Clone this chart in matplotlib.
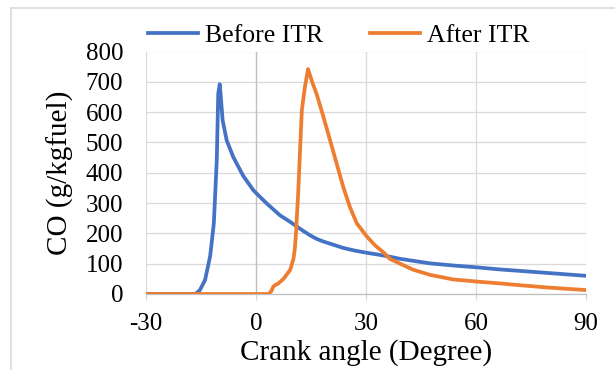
import matplotlib
matplotlib.use("Agg")
import matplotlib.pyplot as plt
from matplotlib.patches import Rectangle

# Before ITR (blue)
before_angle = [-30, -16.5, -15.3, -13.9, -12.5, -11.5, -10.7, -10.3, -9.9, -9.6, -9.1,
                -8.0, -6.2, -3.5, -0.7, 0.2, 2.9, 6.5, 9.3, 11.1, 12.9, 14.7, 16.5,
                18.4, 20.2, 23.8, 27, 30.2, 33.8, 36.5, 39.3, 42, 47.5, 53.8, 60.2,
                66.5, 70, 80, 90]
before_co = [0, 0, 13, 46, 125, 233, 441, 661, 692, 650, 573,
             507, 452, 390, 342, 331, 299, 260, 238, 223, 208, 194, 182,
             173, 166, 152, 143, 136, 129, 123, 116, 111, 101, 94, 88,
             81, 78, 69, 60]

# After ITR (orange)
after_angle = [-30, 3.4, 4.2, 4.7, 5.3, 6.1, 7.5, 9.3, 10.2, 10.6, 10.9, 11.5, 12.0,
               12.5, 13.3, 14.2, 15.3, 16.5, 18.4, 20.2, 22.0, 23.8, 25.6, 27.5,
               30.2, 32.5, 34.7, 36.5, 39.3, 42.9, 47.5, 53.8, 60.2, 66.5, 70, 80, 90]
after_co = [0, 0, 10, 24, 30, 35, 50, 79, 115, 150, 200, 331, 470,
            606, 680, 742, 700, 661, 584, 507, 430, 353, 287, 233,
            190, 160, 138, 116, 100, 80, 63, 48, 41, 35, 31, 21, 13]

x_ticks = [-30, 0, 30, 60, 90]
y_ticks = [0, 100, 200, 300, 400, 500, 600, 700, 800]

plt.rcParams['font.family'] = ['Liberation Serif', 'DejaVu Serif']
plt.rcParams['axes.unicode_minus'] = False

fig = plt.figure(figsize=(6.15, 3.7), dpi=100)
ax = fig.add_axes([146 / 615, 1 - 294 / 370, 440 / 615, 242.5 / 370])

grid_col = '#d9d9d9'
axis_col = '#bfbfbf'

ax.plot(before_angle, before_co, color='#4472C4', lw=2.7, label='Before ITR',
        solid_joinstyle='round', zorder=3)
ax.plot(after_angle, after_co, color='#ED7D31', lw=2.7, label='After ITR',
        solid_joinstyle='round', zorder=3)

ax.set_xlim(-30, 90)
ax.set_ylim(0, 800)
ax.set_xticks(x_ticks)
ax.set_yticks(y_ticks)
ax.grid(True, color=grid_col, lw=0.9, zorder=0)
ax.set_axisbelow(True)

for side in ['left', 'right', 'top']:
    ax.spines[side].set_visible(False)
ax.spines['bottom'].set_color(axis_col)
ax.spines['bottom'].set_linewidth(0.9)
ax.axvline(0, color=axis_col, lw=0.9, zorder=1)

ax.tick_params(axis='x', length=4.5, width=0.9, color=grid_col, pad=9, labelsize=18)
ax.tick_params(axis='y', length=0, pad=16.5, labelsize=18)

ax.set_xlabel('Crank angle (Degree)', fontsize=21)
ax.set_ylabel('CO (g/kgfuel)', fontsize=21)
ax.xaxis.set_label_coords(0.5, -(353 - 294) / 242.5, transform=ax.transAxes)
ax.yaxis.set_label_coords((60 - 146) / 440, 0.5, transform=ax.transAxes)
ax.xaxis.label.set_va('center')
ax.yaxis.label.set_va('center')

fig.legend(loc='center', bbox_to_anchor=(339 / 615, 1 - 36 / 370), ncol=2,
           frameon=False, fontsize=18.5, handlelength=1.95, handletextpad=0.27,
           columnspacing=1.83, borderpad=0, borderaxespad=0)

fig.add_artist(Rectangle((11 / 615, -0.5), 2, 0.5 + 1 - 8 / 370,
                         transform=fig.transFigure, fill=False,
                         edgecolor=grid_col, lw=1.2))

fig.savefig('out.png', dpi=100)
